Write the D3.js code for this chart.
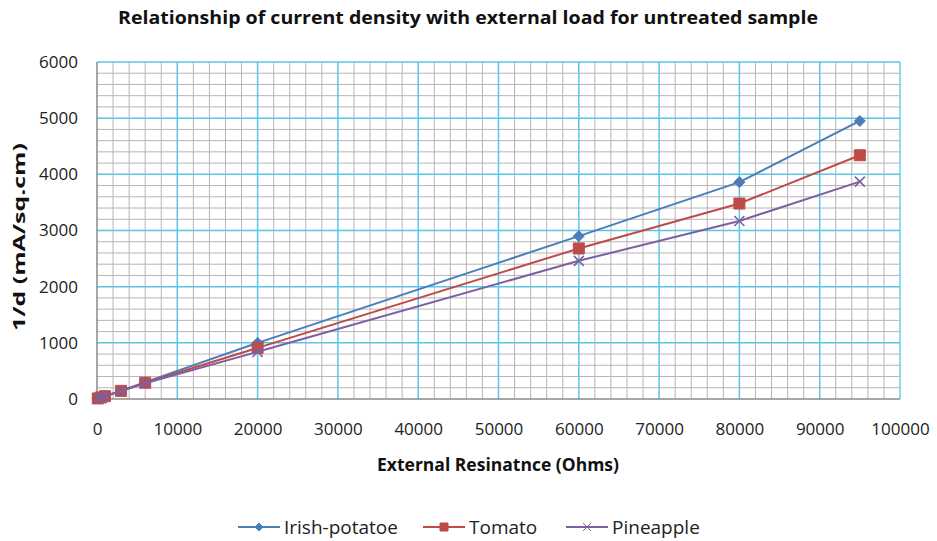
<!DOCTYPE html>
<html>
<head>
<meta charset="utf-8">
<script src="https://cdn.jsdelivr.net/npm/d3@7"></script>
<style>
  body { margin: 0; background: #fff; }
  svg { display: block; font-family: "Open Sans", "DejaVu Sans", sans-serif; }
</style>
</head>
<body>
<svg id="chart" width="937" height="541"></svg>
<script>
// resistance (ohms) per measurement
const resistance = [100, 500, 1000, 3000, 6000, 20000, 60000, 80000, 95000];

const irishPotato = [10, 30, 55, 150, 300, 1000, 2900, 3860, 4950];
const tomato = [10, 28, 50, 145, 290, 910, 2680, 3480, 4340];
const pineapple = [9, 26, 48, 140, 280, 840, 2460, 3170, 3870];

const seriesNames = ["Irish-potatoe", "Tomato", "Pineapple"];
const seriesColors = ["#4a7ebb", "#be4b48", "#7d60a0"];
const seriesMarkers = ["diamond", "square", "cross"];

const xTicks = [0, 10000, 20000, 30000, 40000, 50000, 60000, 70000, 80000, 90000, 100000];
const yTicks = [0, 1000, 2000, 3000, 4000, 5000, 6000];

const svg = d3.select("#chart");
const plot = { left: 97, right: 900, top: 62, bottom: 399 };

const x = d3.scaleLinear().domain([0, 100000]).range([plot.left, plot.right]);
const y = d3.scaleLinear().domain([0, 6000]).range([plot.bottom, plot.top]);

// minor grid
const g = svg.append("g");
g.selectAll(".vminor").data(d3.range(2000, 100000, 2000).filter(d => d % 10000))
  .enter().append("line")
  .attr("x1", d => x(d)).attr("x2", d => x(d))
  .attr("y1", plot.top).attr("y2", plot.bottom)
  .attr("stroke", "#b9b3b6").attr("stroke-width", 1);
g.selectAll(".hminor").data(d3.range(200, 6000, 200).filter(d => d % 1000))
  .enter().append("line")
  .attr("x1", plot.left).attr("x2", plot.right)
  .attr("y1", d => y(d)).attr("y2", d => y(d))
  .attr("stroke", "#b9b3b6").attr("stroke-width", 1);

// major grid
g.selectAll(".vmajor").data(xTicks.slice(1, -1))
  .enter().append("line")
  .attr("x1", d => x(d)).attr("x2", d => x(d))
  .attr("y1", plot.top).attr("y2", plot.bottom)
  .attr("stroke", "#5cc4e6").attr("stroke-width", 1.5);
g.selectAll(".hmajor").data(yTicks.slice(1))
  .enter().append("line")
  .attr("x1", plot.left).attr("x2", plot.right)
  .attr("y1", d => y(d)).attr("y2", d => y(d))
  .attr("stroke", "#5cc4e6").attr("stroke-width", 1.5);

// plot border
svg.append("line").attr("x1", plot.right).attr("x2", plot.right)
  .attr("y1", plot.top).attr("y2", plot.bottom).attr("stroke", "#6fcbe8").attr("stroke-width", 1.5);
svg.append("line").attr("x1", plot.left).attr("x2", plot.left)
  .attr("y1", plot.top).attr("y2", plot.bottom).attr("stroke", "#8a8a8a").attr("stroke-width", 1.5);
svg.append("line").attr("x1", plot.left).attr("x2", plot.right)
  .attr("y1", plot.bottom).attr("y2", plot.bottom).attr("stroke", "#8a8a8a").attr("stroke-width", 1.5);

// axes labels via d3 axes
const xAxis = svg.append("g").attr("transform", `translate(0,${plot.bottom})`)
  .call(d3.axisBottom(x).tickValues(xTicks).tickSize(0).tickPadding(24).tickFormat(d3.format("d")));
const yAxis = svg.append("g").attr("transform", `translate(${plot.left},0)`)
  .call(d3.axisLeft(y).tickValues(yTicks).tickSize(0).tickPadding(19).tickFormat(d3.format("d")));
[xAxis, yAxis].forEach(a => {
  a.select(".domain").remove();
  a.selectAll("text").attr("font-family", "Open Sans, sans-serif").attr("font-size", 17).attr("fill", "#222");
});

// series
const allSeries = [irishPotato, tomato, pineapple];
const line = d3.line().x((d, i) => x(resistance[i])).y(d => y(d));

const markerPath = (type, s) => {
  if (type === "diamond") return `M0,${-s}L${s},0L0,${s}L${-s},0Z`;
  if (type === "square") return `M${-s},${-s}H${s}V${s}H${-s}Z`;
  return `M${-s},${-s}L${s},${s}M${-s},${s}L${s},${-s}`;
};
const markerSize = [5.5, 5.5, 5];

allSeries.forEach((vals, k) => {
  svg.append("path").datum(vals).attr("d", line)
    .attr("fill", "none").attr("stroke", seriesColors[k]).attr("stroke-width", 2);
  svg.append("g").selectAll("path").data(vals).enter().append("path")
    .attr("transform", (d, i) => `translate(${x(resistance[i])},${y(d)})`)
    .attr("d", markerPath(seriesMarkers[k], markerSize[k]))
    .attr("fill", seriesMarkers[k] === "cross" ? "none" : seriesColors[k])
    .attr("stroke", seriesColors[k]).attr("stroke-width", seriesMarkers[k] === "cross" ? 1.6 : 1);
});

// titles
svg.append("text").attr("x", 468).attr("y", 24).attr("text-anchor", "middle")
  .attr("font-size", 17).attr("font-weight", "bold").attr("fill", "#111")
  .attr("textLength", 700).attr("lengthAdjust", "spacingAndGlyphs")
  .text("Relationship of current density with external load for untreated sample");
svg.append("text").attr("x", 498).attr("y", 471).attr("text-anchor", "middle")
  .attr("font-size", 17.5).attr("font-weight", "bold").attr("fill", "#111")
  .text("External Resinatnce (Ohms)");
svg.append("text").attr("transform", "translate(25,237) rotate(-90)").attr("text-anchor", "middle")
  .attr("font-size", 16).attr("font-weight", "bold").attr("fill", "#111")
  .attr("textLength", 188).attr("lengthAdjust", "spacingAndGlyphs")
  .text("1/d (mA/sq.cm)");

// legend
const legendX = [238, 423, 566];
const legend = svg.append("g").selectAll("g").data(seriesNames).enter().append("g")
  .attr("transform", (d, i) => `translate(${legendX[i]},527)`);
legend.append("line").attr("x1", 0).attr("x2", 42).attr("stroke", (d, i) => seriesColors[i]).attr("stroke-width", 2);
legend.append("path").attr("transform", "translate(21,0)")
  .attr("d", (d, i) => markerPath(seriesMarkers[i], 4))
  .attr("fill", (d, i) => seriesMarkers[i] === "cross" ? "none" : seriesColors[i])
  .attr("stroke", (d, i) => seriesColors[i]);
legend.append("text").attr("x", 46).attr("dy", "0.35em").attr("font-size", 19).attr("fill", "#222")
  .text(d => d);
</script>
</body>
</html>
